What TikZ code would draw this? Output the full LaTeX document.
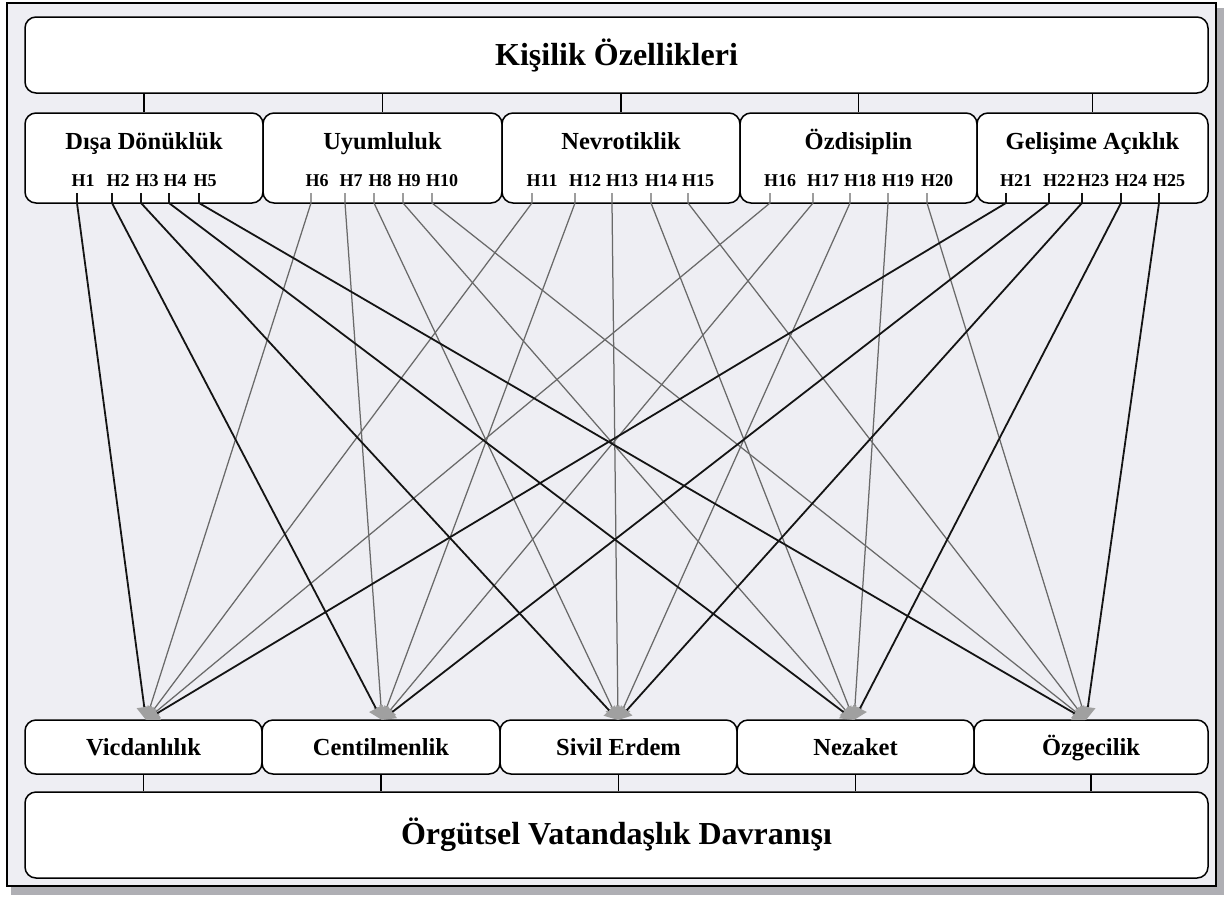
\documentclass[tikz,border=0pt]{standalone}
\usepackage{fontspec}
\setmainfont{Liberation Serif}
\usetikzlibrary{arrows.meta}
\definecolor{bgc}{RGB}{238,238,243}
\definecolor{lgray}{RGB}{105,105,105}
\definecolor{headc}{RGB}{160,160,160}
\definecolor{shadowc}{RGB}{175,175,180}
\begin{document}
\begin{tikzpicture}[x=1pt,y=-1pt,
  box/.style={draw=black, line width=1.5pt, fill=white, rounded corners=11pt, inner sep=0pt},
  bigtxt/.style={font=\fontsize{32}{36}\selectfont\bfseries, inner sep=0pt, anchor=base},
  midtxt/.style={font=\fontsize{24.5}{28}\selectfont\bfseries, inner sep=0pt, anchor=base},
  hl/.style={font=\fontsize{18}{20}\selectfont\bfseries, inner sep=0pt, anchor=base},
  link/.style={line width=1.2pt, black},
  blk/.style={line width=1.8pt, black!92, -{Triangle[length=13pt,width=15pt,color=headc]}},
  gry/.style={line width=1.25pt, lgray, -{Triangle[length=13pt,width=15pt,color=headc]}}
]
\useasboundingbox (0,0) rectangle (1226,897);
\fill[white] (0,0) rectangle (1226,897);
% frame with shadow
\fill[shadowc] (11,8) rectangle (1224,895);
\draw[line width=1.6pt, fill=bgc] (7,3) rectangle (1216,886);

% top box
\node[box, minimum width=1183pt, minimum height=76pt] (top) at (616.5,55) {};
\node[bigtxt] (toptxt) at (616.5,65) {Kişilik Özellikleri};

% trait boxes
\node[box, minimum width=238pt, minimum height=90pt] (T1) at (144,158) {};
\node[box, minimum width=239pt, minimum height=90pt] (T2) at (382.5,158) {};
\node[box, minimum width=238pt, minimum height=90pt] (T3) at (621,158) {};
\node[box, minimum width=237pt, minimum height=90pt] (T4) at (858.5,158) {};
\node[box, minimum width=231pt, minimum height=90pt] (T5) at (1092.5,158) {};
\foreach \n in {T1,T2,T3,T4,T5} \draw[link] (\n.north |- top.south) -- (\n.north);

\node[midtxt] (t1txt) at (144,149) {Dışa Dönüklük};
\node[midtxt] (t2txt) at (382.5,149) {Uyumluluk};
\node[midtxt] (t3txt) at (621,149) {Nevrotiklik};
\node[midtxt] (t4txt) at (858.5,149) {Özdisiplin};
\node[midtxt] (t5txt) at (1092.5,149) {Gelişime Açıklık};

% H labels
\foreach \i/\x in {1/83,2/118,3/147,4/175,5/205,
  6/317,7/351,8/380,9/409,10/442,
  11/542,12/585,13/622,14/661,15/698,
  16/780,17/823,18/860,19/898,20/937,
  21/1016,22/1059,23/1093,24/1131,25/1169}
  \node[hl] (lab\i) at (\x,186) {H\i};

% bottom boxes
\node[box, minimum width=237pt, minimum height=54pt] (B1) at (143.5,747) {};
\node[box, minimum width=238pt, minimum height=54pt] (B2) at (381,747) {};
\node[box, minimum width=237pt, minimum height=54pt] (B3) at (618.5,747) {};
\node[box, minimum width=237pt, minimum height=54pt] (B4) at (855.5,747) {};
\node[box, minimum width=234pt, minimum height=54pt] (B5) at (1091,747) {};
\node[midtxt] (b1txt) at (143.5,755) {Vicdanlılık};
\node[midtxt] (b2txt) at (381,755) {Centilmenlik};
\node[midtxt] (b3txt) at (618.5,755) {Sivil Erdem};
\node[midtxt] (b4txt) at (855.5,755) {Nezaket};
\node[midtxt] (b5txt) at (1091,755) {Özgecilik};

% bottom big box
\node[box, minimum width=1183pt, minimum height=86pt] (ovd) at (616.5,835) {};
\node[bigtxt] (ovdtxt) at (616.5,844) {Örgütsel Vatandaşlık Davranışı};
\foreach \n in {B1,B2,B3,B4,B5} \draw[link] (\n.south) -- (\n.south |- ovd.north);

% arrow targets
\coordinate (a1) at (146,720);
\coordinate (a2) at (382,720);
\coordinate (a3) at (618,720);
\coordinate (a4) at (854,720);
\coordinate (a5) at (1086,720);

% tick start points
\foreach \i/\x in {1/77,2/112,3/141,4/169,5/199,
  6/311,7/345,8/374,9/403,10/432,
  11/532,12/575,13/612,14/651,15/688,
  16/770,17/813,18/850,19/888,20/927,
  21/1006,22/1049,23/1082,24/1121,25/1159}
  \coordinate (h\i) at (\x,193);

% gray connectors
\foreach \i/\k in {6/1,7/2,8/3,9/4,10/5,11/1,12/2,13/3,14/4,15/5,16/1,17/2,18/3,19/4,20/5}
  \draw[gry] (h\i) -- ++(0,10) -- (a\k);
% black connectors
\foreach \i/\k in {1/1,2/2,3/3,4/4,5/5,21/1,22/2,23/3,24/4,25/5}
  \draw[blk] (h\i) -- ++(0,10) -- (a\k);
\end{tikzpicture}
\end{document}
